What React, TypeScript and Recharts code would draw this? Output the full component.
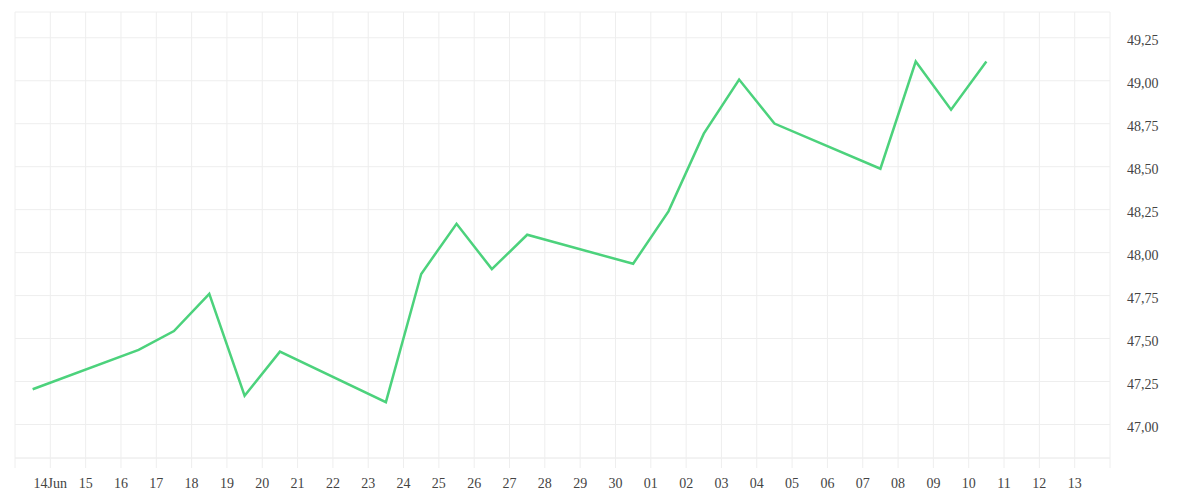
import React from "react";
import { LineChart, Line, XAxis, YAxis, CartesianGrid } from "recharts";

// Trading days (2025) and closing values
const dates = [
  "2025-06-13", "2025-06-16", "2025-06-17", "2025-06-18", "2025-06-19", "2025-06-20",
  "2025-06-23", "2025-06-24", "2025-06-25", "2025-06-26", "2025-06-27",
  "2025-06-30", "2025-07-01", "2025-07-02", "2025-07-03", "2025-07-04",
  "2025-07-07", "2025-07-08", "2025-07-09", "2025-07-10",
];
const values = [
  47.205, 47.434, 47.544, 47.76, 47.167, 47.424,
  47.13, 47.876, 48.168, 47.904, 48.104,
  47.935, 48.24, 48.692, 49.007, 48.751,
  48.488, 49.112, 48.832, 49.112,
];
const yTicks = [47.0, 47.25, 47.5, 47.75, 48.0, 48.25, 48.5, 48.75, 49.0, 49.25];
const tickStartDate = "2025-06-13";
const tickEndDate = "2025-07-14";

const DAY = 86400000;
const toMs = (s: string) => {
  const [y, m, d] = s.split("-").map(Number);
  return Date.UTC(y, m - 1, d);
};

const data = dates.map((d, i) => ({ t: toMs(d) + DAY / 2, v: values[i] }));

const startMs = toMs(tickStartDate);
const endMs = toMs(tickEndDate);
const xTicks: number[] = [];
for (let t = startMs; t <= endMs; t += DAY) xTicks.push(t);

const fmtX = (t: number) => {
  if (t === startMs || t === endMs) return "";
  const d = new Date(t);
  const day = d.getUTCDate();
  if (d.getUTCMonth() === 5 && day === 14) return "14Jun";
  return String(day).padStart(2, "0");
};
const fmtY = (v: number) => v.toFixed(2).replace(".", ",");

const FONT = "'Liberation Serif', 'Times New Roman', serif";

export default function App() {
  return (
    <div style={{ fontFamily: FONT }}>
      <LineChart
        width={1184}
        height={484}
        data={data}
        margin={{ top: 4, left: 7, right: 0, bottom: 0 }}
      >
        <CartesianGrid stroke="#eeeeee" strokeWidth={1} />
        <XAxis
          dataKey="t"
          type="number"
          scale="linear"
          domain={[startMs, endMs]}
          ticks={xTicks}
          tickFormatter={fmtX}
          interval={0}
          height={34}
          tickSize={10}
          tickMargin={10}
          stroke="#eeeeee"
          tick={{ fill: "#444", fontSize: 14, fontFamily: FONT }}
          allowDataOverflow
        />
        <YAxis
          orientation="right"
          type="number"
          domain={[46.805, 49.4]}
          ticks={yTicks}
          tickFormatter={fmtY}
          width={82}
          axisLine={false}
          tickLine={false}
          tickSize={0}
          tickMargin={17}
          tick={{ fill: "#444", fontSize: 14, fontFamily: FONT, dy: 2.5 }}
          allowDataOverflow
        />
        <Line
          type="linear"
          dataKey="v"
          stroke="#4cd27c"
          strokeWidth={2.5}
          dot={false}
          isAnimationActive={false}
        />
      </LineChart>
    </div>
  );
}
